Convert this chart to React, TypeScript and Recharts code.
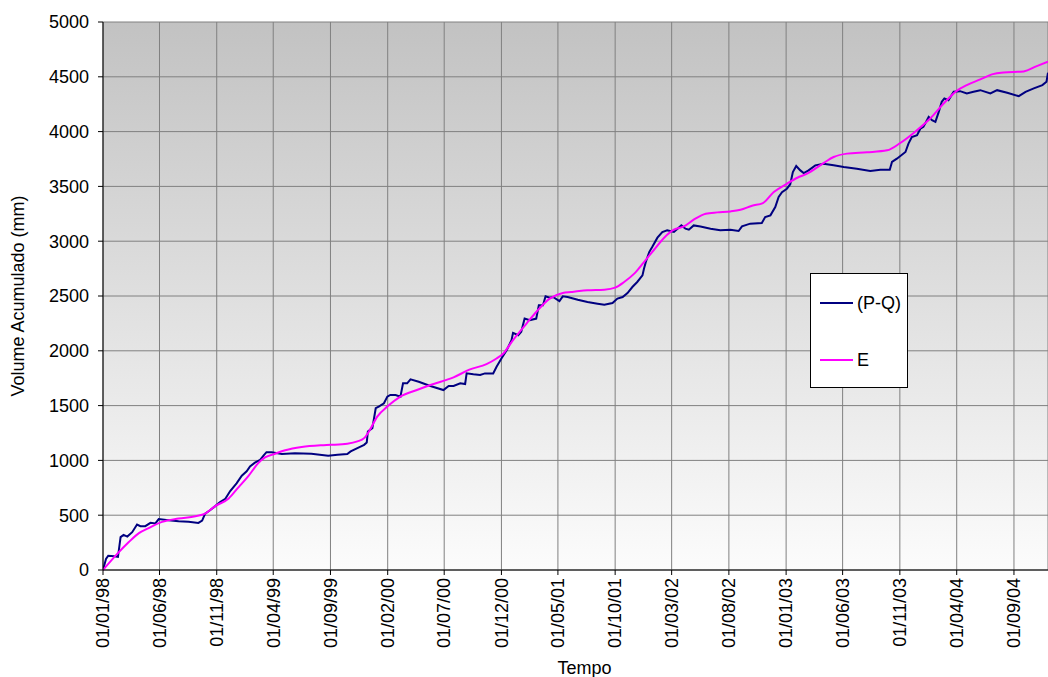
import { LineChart, Line, XAxis, YAxis, CartesianGrid, Legend } from 'recharts';

const pqDates = [
  '01/01/98', '09/01/98', '15/01/98', '31/01/98', '10/02/98', '17/02/98', '25/02/98', '07/03/98', '20/03/98', '02/04/98',
  '11/04/98', '24/04/98', '08/05/98', '21/05/98', '30/05/98', '25/06/98', '22/07/98', '18/08/98', '13/09/98', '23/09/98',
  '01/10/98', '14/10/98', '28/10/98', '10/11/98', '24/11/98', '07/12/98', '24/12/98',
  '07/01/99', '20/01/99', '29/01/99', '11/02/99', '25/02/99', '06/03/99', '14/03/99', '28/03/99', '24/04/99', '29/05/99',
  '12/07/99', '26/08/99', '20/09/99', '16/10/99', '25/10/99', '12/11/99', '30/11/99', '07/12/99', '10/12/99', '22/12/99', '31/12/99',
  '08/01/00', '22/01/00', '31/01/00', '08/02/00', '22/02/00', '06/03/00', '13/03/00', '24/03/00', '02/04/00', '24/04/00',
  '25/05/00', '29/06/00', '13/07/00', '26/07/00', '13/08/00', '26/08/00', '30/08/00', '17/09/00', '05/10/00', '18/10/00',
  '09/11/00', '18/11/00', '01/12/00', '15/12/00', '28/12/00',
  '01/01/01', '15/01/01', '23/01/01', '01/02/01', '15/02/01', '04/03/01', '11/03/01', '22/03/01', '29/03/01', '09/04/01',
  '18/04/01', '05/05/01', '14/05/01', '27/05/01', '23/06/01', '19/07/01', '15/08/01', '02/09/01', '24/09/01', '07/10/01',
  '21/10/01', '03/11/01', '16/11/01', '29/11/01', '13/12/01', '17/12/01', '22/12/01', '31/12/01',
  '08/01/02', '22/01/02', '04/02/02', '17/02/02', '07/03/02', '27/03/02', '07/04/02', '16/04/02', '29/04/02', '17/05/02',
  '13/06/02', '09/07/02', '05/08/02', '27/08/02', '05/09/02', '27/09/02', '28/10/02', '06/11/02', '20/11/02', '03/12/02',
  '12/12/02', '21/12/02',
  '03/01/03', '12/01/03', '19/01/03', '28/01/03', '08/02/03', '17/02/03', '02/03/03', '20/03/03', '11/04/03', '08/05/03',
  '04/06/03', '09/07/03', '14/08/03', '10/09/03', '05/10/03', '11/10/03', '24/10/03', '16/11/03', '24/11/03', '03/12/03',
  '17/12/03', '26/12/03',
  '03/01/04', '17/01/04', '26/01/04', '04/02/04', '13/02/04', '21/02/04', '28/02/04', '10/03/04', '24/03/04', '10/04/04',
  '28/04/04', '16/05/04', '03/06/04', '30/06/04', '18/07/04', '14/08/04', '14/09/04', '02/10/04', '24/10/04', '16/11/04',
  '27/11/04', '01/12/04',
];

const pqValues = [
  0, 100, 130, 125, 120, 300, 320, 305, 345, 415,
  400, 400, 430, 425, 465, 455, 445, 440, 430, 450,
  515, 545, 583, 620, 650, 720, 790,
  860, 900, 945, 980, 1005, 1043, 1075, 1075, 1058, 1065,
  1060, 1043, 1052, 1058, 1082, 1112, 1142, 1164, 1264, 1294, 1476,
  1491, 1521, 1582, 1597, 1597, 1582, 1703, 1703, 1739, 1718,
  1679, 1642, 1679, 1679, 1703, 1697, 1794, 1785, 1779, 1794,
  1794, 1854, 1930, 2006, 2097,
  2164, 2142, 2173, 2294, 2279, 2294, 2415, 2415, 2497, 2485,
  2491, 2454, 2497, 2491, 2465, 2445, 2430, 2421, 2436, 2476,
  2491, 2527, 2582, 2628, 2688, 2749, 2810, 2901,
  2947, 3032, 3084, 3099, 3084, 3144, 3114, 3105, 3144, 3135,
  3114, 3099, 3105, 3093, 3135, 3160, 3166, 3220, 3236, 3312,
  3403, 3448,
  3479, 3520, 3631, 3686, 3646, 3622, 3646, 3692, 3707, 3692,
  3677, 3662, 3640, 3652, 3652, 3723, 3753, 3814, 3890, 3951,
  3967, 4028,
  4043, 4134, 4104, 4089, 4180, 4272, 4302, 4287, 4363, 4369,
  4348, 4363, 4378, 4348, 4378, 4354, 4323, 4363, 4394, 4424,
  4455, 4537,
];

const eDates = [
  '01/01/98', '08/02/98', '11/03/98', '07/04/98', '03/05/98', '08/06/98', '22/07/98', '05/09/98', '01/10/98', '28/10/98',
  '03/12/98', '29/12/98', '25/01/99', '20/02/99', '10/03/99', '06/04/99', '03/05/99', '16/06/99', '08/08/99', '02/09/99',
  '16/10/99', '12/11/99', '30/11/99', '13/12/99', '04/01/00', '31/01/00', '06/03/00', '19/04/00', '25/05/00', '26/07/00',
  '08/09/00', '22/10/00', '18/11/00', '06/12/00', '01/01/01', '06/02/01', '04/03/01', '09/04/01', '14/05/01', '05/06/01',
  '27/06/01', '19/07/01', '02/09/01', '01/10/01', '25/10/01', '21/11/01', '17/12/01', '13/01/02', '09/02/02', '07/03/02',
  '03/04/02', '29/04/02', '31/05/02', '01/07/02', '05/08/02', '01/09/02', '02/10/02', '31/10/02', '29/11/02', '03/01/03',
  '31/01/03', '26/02/03', '11/04/03', '08/05/03', '13/06/03', '05/08/03', '28/09/03', '02/11/03', '08/12/03', '21/01/04',
  '26/02/04', '01/04/04', '28/04/04', '03/06/04', '04/07/04', '04/08/04', '27/09/04', '01/11/04', '01/12/04',
];

const eValues = [
  0, 147, 255, 337, 383, 439, 469, 491, 515, 583,
  653, 754, 859, 975, 1027, 1061, 1092, 1122, 1138, 1142,
  1152, 1173, 1203, 1264, 1400, 1491, 1582, 1642, 1688, 1758,
  1830, 1879, 1930, 1976, 2097, 2248, 2354, 2476, 2527, 2536,
  2545, 2552, 2558, 2576, 2628, 2704, 2810, 2922, 3032, 3105,
  3135, 3196, 3251, 3263, 3272, 3287, 3324, 3348, 3448, 3524,
  3579, 3616, 3713, 3768, 3799, 3811, 3829, 3896, 3988, 4119,
  4256, 4372, 4424, 4476, 4522, 4540, 4549, 4598, 4638,
];

const xTickLabels = [
  '01/01/98', '01/06/98', '01/11/98', '01/04/99', '01/09/99', '01/02/00', '01/07/00', '01/12/00', '01/05/01',
  '01/10/01', '01/03/02', '01/08/02', '01/01/03', '01/06/03', '01/11/03', '01/04/04', '01/09/04',
];
const yTicks = [0, 500, 1000, 1500, 2000, 2500, 3000, 3500, 4000, 4500, 5000];

const FONT = '"Liberation Sans", Arial, sans-serif';

const toTime = (d: string) => {
  const [dd, mm, yy] = d.split('/').map(Number);
  return Date.UTC(yy < 50 ? 2000 + yy : 1900 + yy, mm - 1, dd);
};

const pqData = pqDates.map((d, i) => ({ t: toTime(d), v: pqValues[i] }));
const eData = eDates.map((d, i) => ({ t: toTime(d), v: eValues[i] }));
const xTicks = xTickLabels.map(toTime);
const labelOf = new Map(xTicks.map((t, i) => [t, xTickLabels[i]]));

const XTick = ({ x, payload }: any) => (
  <text x={x} y={578} transform={`rotate(-90, ${x}, 578)`} textAnchor="end" dy="0.35em"
    fontSize={18} fontFamily={FONT} fill="#000">
    {labelOf.get(payload.value)}
  </text>
);

const YTick = ({ y, payload }: any) => (
  <text x={89} y={y} textAnchor="end" dy="0.35em" fontSize={18} fontFamily={FONT} fill="#000">
    {payload.value}
  </text>
);

const LegendBox = ({ payload }: any) => (
  <div style={{
    width: 98, height: 115, boxSizing: 'border-box', background: '#fff', border: '1px solid #000',
    position: 'relative', fontFamily: FONT, fontSize: 18, color: '#000',
  }}>
    {(payload || []).map((p: any, i: number) => (
      <div key={p.value} style={{ position: 'absolute', left: 9, top: 16 + i * 57, height: 26, display: 'flex', alignItems: 'center' }}>
        <span style={{ display: 'inline-block', width: 33, height: 2, background: p.color, marginRight: 4 }} />
        <span>{p.value}</span>
      </div>
    ))}
  </div>
);

export default function App() {
  return (
    <div style={{ position: 'absolute', left: 0, top: 0 }}>
      <LineChart width={1048} height={677} margin={{ top: 22, right: 0, bottom: 0, left: 0 }}>
        <defs>
          <linearGradient id="plotBg" x1="0" y1="0" x2="0" y2="1">
            <stop offset="0%" stopColor="#c2c2c2" />
            <stop offset="100%" stopColor="#fcfcfc" />
          </linearGradient>
        </defs>
        <CartesianGrid fill="url(#plotBg)" fillOpacity={1} stroke="#808080" strokeWidth={1} />
        <XAxis
          type="number"
          dataKey="t"
          domain={[toTime('01/01/98'), toTime('01/12/04')]}
          ticks={xTicks}
          interval={0}
          height={107}
          tick={<XTick />}
          tickSize={5}
          axisLine={{ stroke: '#000' }}
          tickLine={{ stroke: '#000' }}
          allowDataOverflow
          label={({ viewBox }: any) => (
            <text x={viewBox.x + viewBox.width / 2 + 9} y={668} textAnchor="middle" dy="0.35em"
              fontSize={18} fontFamily={FONT} fill="#000">Tempo</text>
          )}
        />
        <YAxis
          type="number"
          domain={[0, 5000]}
          ticks={yTicks}
          interval={0}
          width={103}
          tick={<YTick />}
          tickSize={5}
          axisLine={{ stroke: '#000' }}
          tickLine={{ stroke: '#000' }}
          label={() => (
            <text x={18} y={296} transform="rotate(-90, 18, 296)" textAnchor="middle" dy="0.35em"
              fontSize={18} fontFamily={FONT} fill="#000">Volume Acumulado (mm)</text>
          )}
        />
        <Legend
          layout="vertical"
          align="center"
          verticalAlign="middle"
          content={<LegendBox />}
          wrapperStyle={{ left: 810, top: 273, width: 98, height: 115 }}
        />
        <Line data={pqData} dataKey="v" name="(P-Q)" type="linear" stroke="#000080" strokeWidth={2}
          dot={false} activeDot={false} isAnimationActive={false} />
        <Line data={eData} dataKey="v" name="E" type="monotone" stroke="#ff00ff" strokeWidth={2}
          dot={false} activeDot={false} isAnimationActive={false} />
      </LineChart>
    </div>
  );
}
